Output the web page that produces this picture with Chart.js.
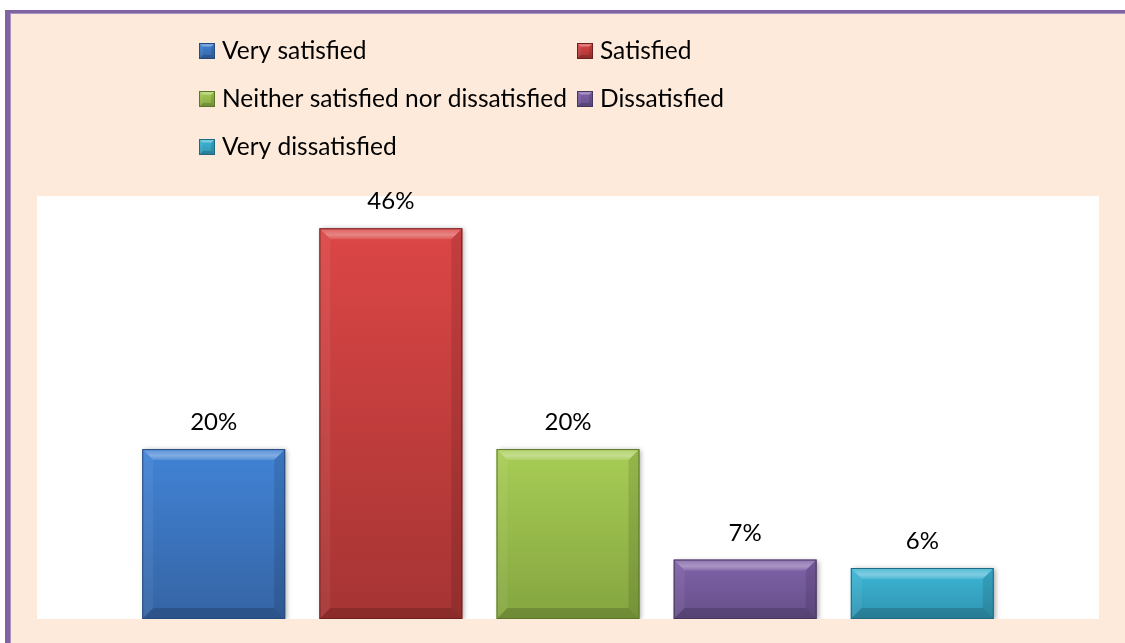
<!DOCTYPE html>
<html>
<head>
<meta charset="utf-8">
<script src="https://cdn.jsdelivr.net/npm/chart.js@4.4.0/dist/chart.umd.min.js"></script>
<style>
  html, body { margin: 0; padding: 0; background: #fff; }
  #wrap { width: 1125px; height: 643px; position: relative; }
</style>
</head>
<body>
<div id="wrap"><canvas id="satisfactionChart"></canvas></div>
<script>
// survey answers, one series per answer
const seriesNames = ['Very satisfied', 'Satisfied', 'Neither satisfied nor dissatisfied', 'Dissatisfied', 'Very dissatisfied'];
const seriesValues = [20, 46, 20, 7, 6];
const categoryLabels = [''];
const axisMax = 49.8;

// bar colours: top tone, bottom tone, edge
const topTones = ['#4183D6', '#DC4646', '#A8CD55', '#8062A9', '#3DB6D6'];
const bottomTones = ['#3564A4', '#A53433', '#84A540', '#664F89', '#2F94B0'];
const edgeTones = ['#254A7C', '#6E2020', '#5B7629', '#48365F', '#1E6A80'];

const FONT = 'Lato, "Open Sans", sans-serif';

function poly(ctx, pts, fill) {
    ctx.beginPath();
    ctx.moveTo(pts[0][0], pts[0][1]);
    for (let i = 1; i < pts.length; i++) ctx.lineTo(pts[i][0], pts[i][1]);
    ctx.closePath();
    ctx.fillStyle = fill;
    ctx.fill();
}

// Excel-like bevel on a rectangle
function drawBevel(ctx, l, t, r, b, k, edge) {
    k = Math.min(k, (r - l) / 2, (b - t) / 2);
    const g = ctx.createLinearGradient(0, t, 0, t + k);
    g.addColorStop(0, 'rgba(255,255,255,0.12)');
    g.addColorStop(0.6, 'rgba(255,255,255,0.34)');
    g.addColorStop(1, 'rgba(255,255,255,0.10)');
    poly(ctx, [[l, t], [r, t], [r - k, t + k], [l + k, t + k]], g);
    poly(ctx, [[l, t], [l + k, t + k], [l + k, b - k], [l, b]], 'rgba(255,255,255,0.06)');
    poly(ctx, [[r, t], [r, b], [r - k, b - k], [r - k, t + k]], 'rgba(0,0,0,0.11)');
    poly(ctx, [[l, b], [l + k, b - k], [r - k, b - k], [r, b]], 'rgba(0,0,0,0.16)');
    ctx.strokeStyle = edge;
    ctx.lineWidth = 1;
    ctx.strokeRect(l + 0.5, t + 0.5, r - l - 1, b - t - 1);
}

function barGradient(context) {
    const chart = context.chart;
    const i = context.datasetIndex;
    if (!chart.chartArea) return topTones[i];
    const yScale = chart.scales.y;
    const top = yScale.getPixelForValue(seriesValues[i]);
    const base = yScale.getPixelForValue(0);
    const g = chart.ctx.createLinearGradient(0, top, 0, base);
    g.addColorStop(0, topTones[i]);
    g.addColorStop(1, bottomTones[i]);
    return g;
}

// frame: peach panel, purple border, white plot area
const framePlugin = {
    id: 'frame',
    beforeDraw(chart) {
        const ctx = chart.ctx;
        const a = chart.chartArea;
        ctx.save();
        ctx.fillStyle = '#fff';
        ctx.fillRect(0, 0, chart.width, chart.height);
        ctx.fillStyle = '#FDEADA';
        ctx.fillRect(5, 10, chart.width - 5, chart.height - 10);
        ctx.fillStyle = '#8064A2';
        ctx.fillRect(5, 10, 5, chart.height - 10);
        ctx.fillRect(5, 10, chart.width - 5, 3);
        ctx.fillStyle = '#A792C2';
        ctx.fillRect(10, 13, 1, chart.height - 13);
        ctx.fillRect(10, 13, chart.width - 10, 1);
        ctx.fillStyle = '#fff';
        ctx.fillRect(a.left, a.top, a.right - a.left, a.bottom - a.top);
        ctx.restore();
    },
    beforeDatasetsDraw(chart) {
        const ctx = chart.ctx;
        ctx.save();
        ctx.shadowColor = 'rgba(0,0,0,0.35)';
        ctx.shadowBlur = 5;
        ctx.shadowOffsetX = 2;
        ctx.shadowOffsetY = 1;
    },
    afterDatasetsDraw(chart) {
        const ctx = chart.ctx;
        ctx.restore();
        ctx.save();
        chart.data.datasets.forEach((ds, i) => {
            const meta = chart.getDatasetMeta(i);
            meta.data.forEach((el, j) => {
                const p = el.getProps(['x', 'y', 'base', 'width'], true);
                const l = p.x - p.width / 2, r = p.x + p.width / 2;
                drawBevel(ctx, l, p.y, r, p.base, 11, edgeTones[i]);
                ctx.fillStyle = '#000';
                ctx.font = '24px ' + FONT;
                ctx.textAlign = 'center';
                ctx.textBaseline = 'alphabetic';
                ctx.fillText(ds.data[j] + '%', p.x, p.y - 19);
            });
        });
        ctx.restore();
    }
};

// two-column legend above the plot
const legendPlugin = {
    id: 'gridLegend',
    afterDraw(chart) {
        const ctx = chart.ctx;
        const cols = [199, 577];
        const rows = [51, 99, 147];
        const box = 16;
        ctx.save();
        ctx.font = '24.5px ' + FONT;
        ctx.textBaseline = 'alphabetic';
        ctx.textAlign = 'left';
        chart.data.datasets.forEach((ds, i) => {
            const x = cols[i % 2];
            const y = rows[Math.floor(i / 2)];
            const t = y - box / 2;
            const g = ctx.createLinearGradient(0, t, 0, t + box);
            g.addColorStop(0, topTones[i]);
            g.addColorStop(1, bottomTones[i]);
            ctx.fillStyle = g;
            ctx.fillRect(x, t, box, box);
            drawBevel(ctx, x, t, x + box, t + box, 4, edgeTones[i]);
            ctx.fillStyle = '#000';
            ctx.fillText(ds.label, x + 23, y + 8);
        });
        ctx.restore();
    }
};

const datasets = seriesNames.map((name, i) => ({
    label: name,
    data: [seriesValues[i]],
    backgroundColor: barGradient,
    borderWidth: 0,
    barPercentage: 0.807,
    categoryPercentage: 0.834
}));

new Chart(document.getElementById('satisfactionChart'), {
    type: 'bar',
    data: { labels: categoryLabels, datasets: datasets },
    options: {
        responsive: true,
        maintainAspectRatio: false,
        animation: false,
        layout: { padding: { left: 37, right: 26, top: 196, bottom: 24 } },
        plugins: {
            legend: { display: false },
            tooltip: { enabled: false }
        },
        scales: {
            x: { display: false },
            y: { display: false, min: 0, max: axisMax }
        }
    },
    plugins: [framePlugin, legendPlugin]
});
</script>
</body>
</html>
